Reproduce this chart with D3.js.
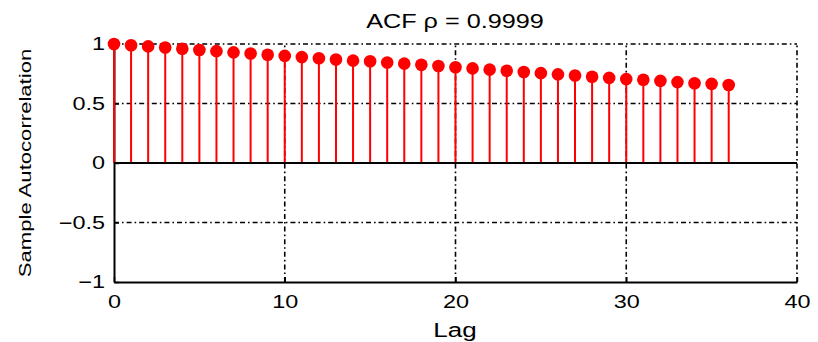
<!DOCTYPE html>
<html>
<head>
<meta charset="utf-8">
<script src="https://cdnjs.cloudflare.com/ajax/libs/d3/7.8.5/d3.min.js"></script>
<style>
  body { margin: 0; background: #fff; }
  text { font-family: "Liberation Sans", Arial, sans-serif; fill: #000; }
</style>
</head>
<body>
<svg id="chart" width="818" height="342"></svg>
<script>
// sample autocorrelation, lags 0..36
var lags = d3.range(0, 37)
var acf = [1.00, 0.99, 0.98, 0.97, 0.96, 0.95, 0.94, 0.93, 0.92, 0.91,
  0.90, 0.89, 0.88, 0.87, 0.86, 0.855, 0.845, 0.835, 0.825, 0.815,
  0.805, 0.795, 0.785, 0.775, 0.765, 0.755, 0.745, 0.735, 0.725, 0.715,
  0.705, 0.70, 0.69, 0.68, 0.67, 0.665, 0.655]
var xTicks = [0, 10, 20, 30, 40]
var yTicks = [-1, -0.5, 0, 0.5, 1]
var title = 'ACF \u03c1 = 0.9999'

var svg = d3.select('#chart')
var x = d3.scaleLinear().domain([0, 40]).range([114, 797])
var y = d3.scaleLinear().domain([-1, 1]).range([282, 44])
var fmt = d3.format('~g')

// stretch text horizontally (the original export is wide-set)
function stretch(sel, f) {
  sel.each(function() {
    var w = this.getComputedTextLength()
    d3.select(this).attr('textLength', w * f).attr('lengthAdjust', 'spacingAndGlyphs')
  })
}

// dash-dot grid
var grid = svg.append('g')
  .attr('stroke', '#000')
  .attr('stroke-width', 1.6)
  .attr('stroke-dasharray', '5,3,1.6,3')
grid.selectAll('.gx').data(xTicks.filter(function(d){ return d > 0 })).enter().append('line')
  .attr('x1', function(d){ return x(d) }).attr('x2', function(d){ return x(d) })
  .attr('y1', y(-1)).attr('y2', y(1))
grid.selectAll('.gy').data(yTicks.filter(function(d){ return d != 0 && d != -1 })).enter().append('line')
  .attr('x1', x(0)).attr('x2', x(40))
  .attr('y1', function(d){ return y(d) }).attr('y2', function(d){ return y(d) })

// axes
var ax = svg.append('g')
  .attr('transform', 'translate(0,' + y(-1) + ')')
  .call(d3.axisBottom(x).tickValues(xTicks).tickFormat(fmt).tickSize(-5).tickSizeOuter(0).tickPadding(13))
var ay = svg.append('g')
  .attr('transform', 'translate(' + x(0) + ',0)')
  .call(d3.axisLeft(y).tickValues(yTicks).tickFormat(fmt).tickSize(-5).tickSizeOuter(0).tickPadding(9))
ax.selectAll('.domain').attr('stroke-width', 2)
ay.selectAll('.domain').attr('stroke-width', 2)
ax.selectAll('.tick line').attr('stroke-width', 1.5)
ay.selectAll('.tick line').attr('stroke-width', 1.5)
svg.selectAll('.tick text').attr('font-size', 18).attr('font-family', '"Liberation Sans", Arial, sans-serif')
stretch(svg.selectAll('.tick text'), 1.3)

// stems
svg.append('g').selectAll('line').data(lags).enter().append('line')
  .attr('x1', function(d){ return x(d) }).attr('x2', function(d){ return x(d) })
  .attr('y1', y(0)).attr('y2', function(d, i){ return y(acf[i]) })
  .attr('stroke', '#ff0000').attr('stroke-width', 2)

// baseline
svg.append('line')
  .attr('x1', x(0)).attr('x2', x(40)).attr('y1', y(0)).attr('y2', y(0))
  .attr('stroke', '#000').attr('stroke-width', 2)

// markers
svg.append('g').selectAll('circle').data(lags).enter().append('circle')
  .attr('cx', function(d){ return x(d) })
  .attr('cy', function(d, i){ return y(acf[i]) })
  .attr('r', 6.3)
  .attr('fill', '#ff0000')

// title and labels
var t = svg.append('text').attr('x', 455).attr('y', 28)
  .attr('text-anchor', 'middle').attr('font-size', 21).text(title)
stretch(t, 1.2)
var xl = svg.append('text').attr('x', 455).attr('y', 337)
  .attr('text-anchor', 'middle').attr('font-size', 20).text('Lag')
stretch(xl, 1.3)
var yl = svg.append('text')
  .attr('transform', 'translate(31,' + y(0) + ')rotate(-90)')
  .attr('text-anchor', 'middle').attr('font-size', 17).text('Sample Autocorrelation')
stretch(yl, 1.3)
</script>
</body>
</html>
